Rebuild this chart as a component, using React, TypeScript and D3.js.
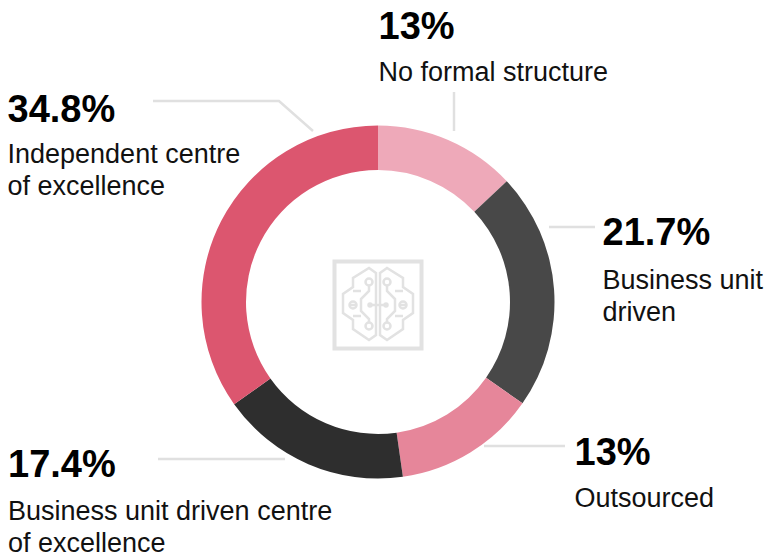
import React from "react";
import * as d3 from "d3";

const categories = ["No formal structure", "Business unit driven", "Outsourced", "Business unit driven centre of excellence", "Independent centre of excellence"];
const values = [13, 21.7, 13, 17.4, 34.8];
const valueLabels = ["13%", "21.7%", "13%", "17.4%", "34.8%"];
const colors = ["#eea9b9", "#484848", "#e6869a", "#2e2e2e", "#dc566f"];
const labelLines = [["No formal structure"], ["Business unit", "driven"], ["Outsourced"], ["Business unit driven centre", "of excellence"], ["Independent centre", "of excellence"]];

const W = 766, H = 558, CX = 378, CY = 302, R = 176.5, r = 132;
const labelPos = [
  { x: 378.5, y: 39, sub: 81 },
  { x: 602.5, y: 245, sub: 289 },
  { x: 574.5, y: 465, sub: 507 },
  { x: 8, y: 477, sub: 520 },
  { x: 7.5, y: 122, sub: 163 },
];
const leaders = [
  [[454, 92], [454, 131]],
  [[549, 227], [595, 227]],
  [[484, 446], [565, 446]],
  [[158, 459], [285, 459]],
  [[153, 101], [279, 101], [313, 131]],
];
const brainHalf = "M-2,-31 L-9,-36 L-25,-26 L-25,-17 L-35,-10 L-35,9 L-25,16 L-25,25 L-9,36 L-2,31 Z M-9,-18 V-13 L-17,-5 V7 L-9,15 V18 M-25,-13 H-17 M-25,12 H-17 M-21,1 H-29";

export default function App() {
  const pie = d3.pie<number>().value((d) => d).sort(null);
  const arc = d3.arc<d3.PieArcDatum<number>>().innerRadius(r).outerRadius(R);
  const line = d3.line();
  const font = "'Liberation Sans', Arial, sans-serif";
  return (
    <svg width={W} height={H} viewBox={`0 0 ${W} ${H}`} style={{ position: "absolute", left: 0, top: 0, background: "#fff" }} fontFamily={font}>
      {leaders.map((p, i) => (
        <path key={i} d={line(p as [number, number][]) || ""} fill="none" stroke="#e0e0e0" strokeWidth={2.5} />
      ))}
      <g transform={`translate(${CX},${CY})`}>
        {pie(values).map((d, i) => (
          <path key={categories[i]} d={arc(d) || ""} fill={colors[i]} />
        ))}
      </g>
      <g transform="translate(378,304)" fill="none" stroke="#e2e2e2" strokeWidth={2.5}>
        <rect x={-43.5} y={-42.5} width={87} height={87} strokeWidth={4} />
        <path d="M-8,1 H8" />
        <circle cx={-8} cy={1} r={1.5} fill="#e2e2e2" />
        <circle cx={8} cy={1} r={1.5} fill="#e2e2e2" />
        {[1, -1].map((s) => (
          <g key={s} transform={`scale(${s},1)`}>
            <path d={brainHalf} />
            <circle cx={-9} cy={-22} r={3.5} />
            <circle cx={-25} cy={1} r={3.5} />
            <circle cx={-9} cy={22} r={3.5} />
          </g>
        ))}
      </g>
      {valueLabels.map((t, i) => (
        <g key={i} fill="#000">
          <text x={labelPos[i].x} y={labelPos[i].y} fontSize={38} fontWeight={700}>{t}</text>
          {labelLines[i].map((l, j) => (
            <text key={j} x={labelPos[i].x} y={labelPos[i].sub + j * 32} fontSize={27} fill="#111">{l}</text>
          ))}
        </g>
      ))}
    </svg>
  );
}
